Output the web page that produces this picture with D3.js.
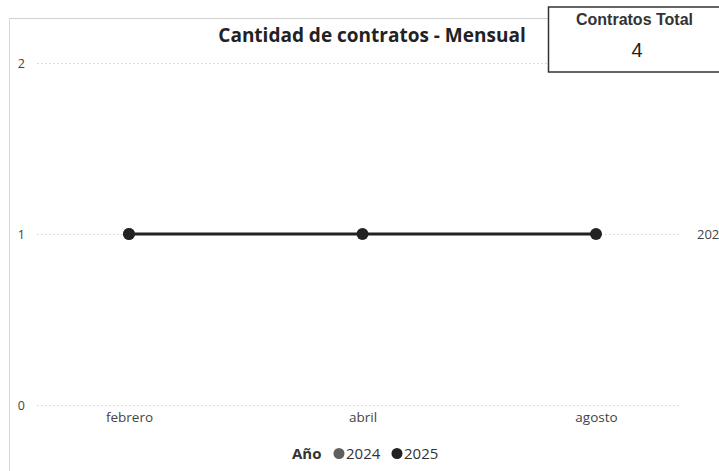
<!DOCTYPE html>
<html><head><meta charset="utf-8">
<script src="https://cdn.jsdelivr.net/npm/d3@7"></script>
<style>
body{margin:0;background:#fff;}
svg{display:block;}
</style></head>
<body><svg id="c" width="719" height="471"></svg>
<script>
const months = ["febrero", "abril", "agosto"];
const years = ["2024", "2025"];
const values2024 = [1, null, null];
const values2025 = [1, 1, 1];
const yTicks = [0, 1, 2];
const seriesColors = ["#5f5f5f", "#222222"];
const kpiLabel = "Contratos Total";
const kpiValue = 4;
const title = "Cantidad de contratos - Mensual";

const svg = d3.select("#c");
const font = "'Open Sans', 'Segoe UI', sans-serif";

// frame
svg.append("line").attr("x1",9).attr("x2",719).attr("y1",18.5).attr("y2",18.5).attr("stroke","#d0d0d0");
svg.append("line").attr("x1",9.5).attr("x2",9.5).attr("y1",18).attr("y2",471).attr("stroke","#d8d8d8");

const x = d3.scalePoint().domain(months).range([129, 596]);
const y = d3.scaleLinear().domain([0, 2]).range([405, 63]);

// grid
const yAxis = svg.append("g").attr("transform","translate(37,0)")
  .call(d3.axisLeft(y).tickValues(yTicks).tickSize(-643).tickFormat(d3.format("d")));
yAxis.select(".domain").remove();
yAxis.selectAll(".tick line").attr("stroke","#d0d0d0").attr("stroke-dasharray","1.5,2.5");
yAxis.selectAll(".tick text").attr("x",-12).attr("fill","#444").attr("font-size",12.5).attr("font-family",font);

const xAxis = svg.append("g").attr("transform","translate(0,405)")
  .call(d3.axisBottom(x).tickSize(0).tickPadding(7));
xAxis.select(".domain").remove();
xAxis.selectAll(".tick text").attr("fill","#444").attr("font-size",13.5).attr("font-family",font);

// series
const seriesData = [values2024, values2025];
const line = d3.line().defined(d=>d.v!=null).x(d=>x(d.m)).y(d=>y(d.v));
seriesData.forEach((vals, i) => {
  const pts = months.map((m,j)=>({m, v: vals[j]}));
  svg.append("path").datum(pts).attr("d", line).attr("fill","none")
    .attr("stroke", seriesColors[i]).attr("stroke-width", 3);
});
seriesData.forEach((vals, i) => {
  const pts = months.map((m,j)=>({m, v: vals[j]})).filter(d=>d.v!=null);
  svg.selectAll(null).data(pts).enter().append("circle")
    .attr("cx", d=>x(d.m)).attr("cy", d=>y(d.v)).attr("r", 6)
    .attr("fill", seriesColors[i]);
});
// end label (clipped by the page edge, as in the reference)
svg.append("text").attr("x", 697).attr("y", y(1)+4.5).attr("font-size",13)
  .attr("fill","#444").attr("font-family",font).text(years[1]);

// title
svg.append("text").attr("x", 372).attr("y", 42).attr("text-anchor","middle")
  .attr("font-size",19).attr("font-weight","bold").attr("fill","#222")
  .attr("font-family",font).text(title);

// legend
const lg = svg.append("g").attr("font-family",font).attr("font-size",15);
lg.append("text").attr("x",292).attr("y",458.5).attr("font-weight","bold").attr("fill","#333").text("Año");
const legX = [339, 397];
years.forEach((yr,i)=>{
  lg.append("circle").attr("cx",legX[i]).attr("cy",453.5).attr("r",5.5).attr("fill",seriesColors[i]);
  lg.append("text").attr("x",legX[i]+7).attr("y",458.5).attr("fill","#333").text(yr);
});

// KPI card
svg.append("rect").attr("x",548.5).attr("y",7).attr("width",180).attr("height",65)
  .attr("fill","#fff").attr("stroke","#333").attr("stroke-width",1.5);
svg.append("text").attr("x",634.5).attr("y",25).attr("text-anchor","middle")
  .attr("font-family","'Liberation Sans', Arial, sans-serif").attr("font-size",16).attr("font-weight","bold")
  .attr("fill","#333").text(kpiLabel);
svg.append("text").attr("x",637).attr("y",57).attr("text-anchor","middle")
  .attr("font-family","'Liberation Sans', Arial, sans-serif").attr("font-size",20)
  .attr("fill","#222").text(kpiValue);
</script></body></html>
